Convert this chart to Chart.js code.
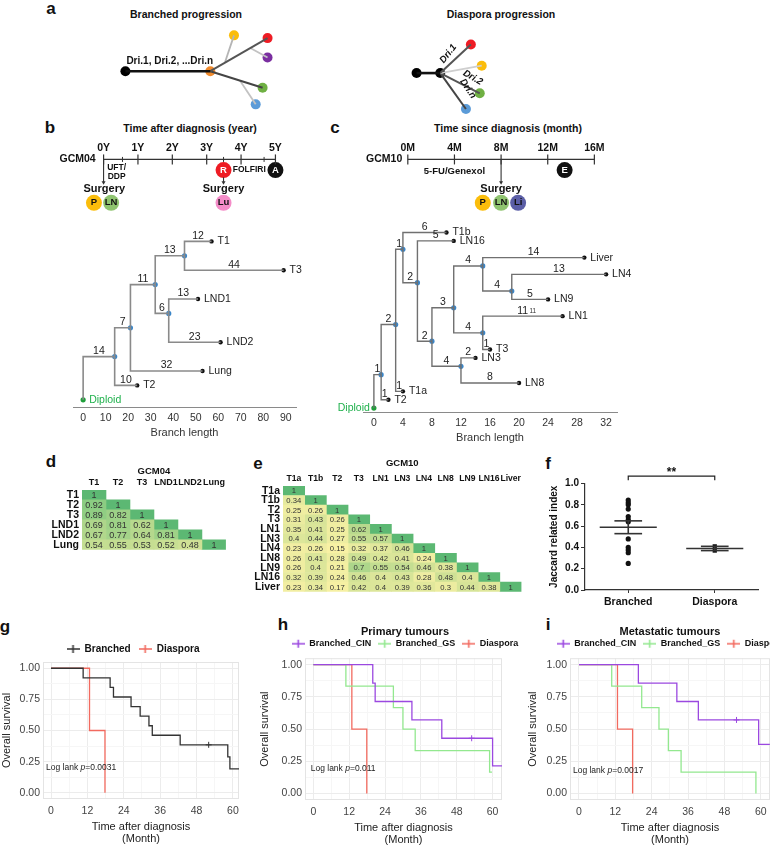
<!DOCTYPE html>
<html>
<head>
<meta charset="utf-8">
<script src="https://cdn.jsdelivr.net/npm/chart.js@4.4.1/dist/chart.umd.min.js"></script>
<style>
  html, body { margin: 0; padding: 0; background: #fff; }
  body { width: 770px; height: 848px; position: relative; overflow: hidden;
         font-family: "Liberation Sans", Arial, sans-serif; }
  .box { position: absolute; }
  .txt { position: absolute; transform: translate(-50%, -50%); white-space: nowrap;
         font-weight: bold; color: #111; }
  .letter { font-size: 17px; }
  .head { font-size: 10.5px; }
</style>
</head>
<body>
<script>
const FONT = '"Liberation Sans", Arial, sans-serif';
Chart.defaults.font.family = FONT;
Chart.defaults.color = '#222';
Chart.defaults.animation = false;
Chart.defaults.events = [];
Chart.defaults.plugins.legend.display = false;
Chart.defaults.plugins.tooltip.enabled = false;

// ---------- a: progression sketches (sketch units) ----------
const branchedX = [122, 208, 232, 266, 266, 261, 254, 223, 249, 238];
const branchedY = [72, 72, 33, 36, 57, 90, 108, 62, 47, 82];
const branchedEdges = [[0, 1], [1, 3], [7, 2], [8, 4], [1, 5], [9, 6]];
const diasporaX = [417, 441, 472, 483, 481, 467];
const diasporaY = [74, 74, 43, 66, 96, 113];
const diasporaEdges = [[0, 1], [1, 2], [1, 3], [1, 4], [1, 5]];

// ---------- b/c: timelines ----------
const yearTicks = [0, 1, 2, 3, 4, 5];
const yearMinor = [0.55, 3.49, 4.67];
const gcm04Surgery = [0, 3.49];
const gcm04Relapse = 3.49;
const gcm04Last = 5;
const monthTicks = [0, 4, 8, 12, 16];
const gcm10Surgery = 8;
const gcm10Last = 13.45;

// ---------- b/c: phylogenetic trees ----------
const treeBNames  = ['Diploid', 'n14', 'T2', 'n21', 'Lung', 'n32', 'n45', 'T1', 'T3', 'n38', 'LND1', 'LND2'];
const treeBParent = [-1, 0, 1, 1, 3, 3, 5, 6, 6, 5, 9, 9];
const treeBBranch = [0, 14, 10, 7, 32, 11, 13, 12, 44, 6, 13, 23];
const treeBRow    = [11, 8, 10, 6, 9, 3, 1, 0, 2, 5, 4, 7];
const treeBTicks  = [0, 10, 20, 30, 40, 50, 60, 70, 80, 90];

const treeCNames  = ['Diploid', 'n1', 'T2', 'n3', 'T1a', 'n4', 'T1b', 'n6', 'LN16', 'n8', 'n11',
                     'n15a', 'Liver', 'n19', 'LN4', 'LN9', 'n15b', 'LN1', 'T3', 'n12', 'LN3', 'LN8'];
const treeCParent = [-1, 0, 1, 1, 3, 3, 5, 5, 7, 7, 9, 10, 11, 11, 13, 13, 10, 16, 16, 9, 19, 19];
const treeCBranch = [0, 1, 1, 2, 1, 1, 6, 2, 5, 2, 3, 4, 14, 4, 13, 5, 4, 11, 1, 4, 2, 8];
const treeCRow    = [21, 17, 20, 11, 19, 2, 0, 6, 1, 13, 9, 4, 3, 7, 5, 8, 12, 10, 14, 16, 15, 18];
const treeCTicks  = [0, 4, 8, 12, 16, 20, 24, 28, 32];

// ---------- d/e: Jaccard heatmaps ----------
const gcm04Samples = ['T1', 'T2', 'T3', 'LND1', 'LND2', 'Lung'];
const gcm04Jaccard = [
  [1],
  [0.92, 1],
  [0.89, 0.82, 1],
  [0.69, 0.81, 0.62, 1],
  [0.67, 0.77, 0.64, 0.81, 1],
  [0.54, 0.55, 0.53, 0.52, 0.48, 1]
];
const gcm10Samples = ['T1a', 'T1b', 'T2', 'T3', 'LN1', 'LN3', 'LN4', 'LN8', 'LN9', 'LN16', 'Liver'];
const gcm10Jaccard = [
  [1],
  [0.34, 1],
  [0.25, 0.26, 1],
  [0.31, 0.43, 0.26, 1],
  [0.35, 0.41, 0.25, 0.62, 1],
  [0.4, 0.44, 0.27, 0.55, 0.57, 1],
  [0.23, 0.26, 0.15, 0.32, 0.37, 0.46, 1],
  [0.26, 0.41, 0.28, 0.49, 0.42, 0.41, 0.24, 1],
  [0.26, 0.4, 0.21, 0.7, 0.55, 0.54, 0.46, 0.38, 1],
  [0.32, 0.39, 0.24, 0.46, 0.4, 0.43, 0.28, 0.48, 0.4, 1],
  [0.23, 0.34, 0.17, 0.42, 0.4, 0.39, 0.36, 0.3, 0.44, 0.38, 1]
];

// ---------- f: Jaccard related index ----------
const jaccardGroups = ['Branched', 'Diaspora'];
const branchedJaccard = [0.845, 0.82, 0.8, 0.76, 0.69, 0.66, 0.64, 0.48, 0.4, 0.375, 0.35, 0.25];
const diasporaJaccard = [0.41, 0.37];

// ---------- g/h/i: survival ----------
const kmTicksX = [0, 12, 24, 36, 48, 60, 72];
const kmGridX = [0, 6, 12, 18, 24, 30, 36, 42, 48, 54, 60, 66, 72];
const survTicks = [0, 0.25, 0.5, 0.75, 1];
const survGrid = [0, 0.125, 0.25, 0.375, 0.5, 0.625, 0.75, 0.875, 1];

const gBranchedT = [0, 10.6, 19.5, 20.6, 26.4, 29.4, 32.3, 33.4, 42.6, 58.3, 59, 62];
const gBranchedS = [1, 0.923, 0.846, 0.769, 0.692, 0.615, 0.538, 0.462, 0.385, 0.289, 0.192, 0.192];
const gDiasporaT = [0, 12.7, 17.8];
const gDiasporaS = [1, 0.5, 0];

const hCinT = [0, 19.9, 20.7, 33, 43, 60, 63.2];
const hCinS = [1, 0.857, 0.714, 0.571, 0.429, 0.214, 0.214];
const hGsT = [0, 10.9, 26.8, 30, 34.1, 59, 59.8];
const hGsS = [1, 0.833, 0.667, 0.5, 0.333, 0.167, 0.167];
const hDiasporaT = [0, 12.9, 17.9];
const hDiasporaS = [1, 0.5, 0];

const iCinT = [0, 19.6, 32.3, 39.4, 59.3, 63];
const iCinS = [1, 0.857, 0.714, 0.571, 0.381, 0.381];
const iGsT = [0, 10.8, 20.7, 26.4, 29.5, 33.7, 58.4];
const iGsS = [1, 0.833, 0.667, 0.5, 0.333, 0.167, 0];
const iDiasporaT = [0, 12.7, 17.7];
const iDiasporaS = [1, 0.5, 0];

// ---------- helpers ----------
function place(left, top, width, height) {
  const d = document.createElement('div');
  d.className = 'box';
  d.style.left = left + 'px';
  d.style.top = top + 'px';
  d.style.width = width + 'px';
  d.style.height = height + 'px';
  const c = document.createElement('canvas');
  d.appendChild(c);
  document.body.appendChild(d);
  return c;
}

function label(text, x, y, cls) {
  const d = document.createElement('div');
  d.className = 'txt ' + cls;
  d.style.left = x + 'px';
  d.style.top = y + 'px';
  d.textContent = text;
  document.body.appendChild(d);
}

function fontOf(size, bold, italic) {
  return (italic ? 'italic ' : '') + (bold ? 'bold ' : '') + size + 'px ' + FONT;
}

// text annotations placed in data units
function notes(items) {
  return {
    id: 'notes',
    afterDatasetsDraw(chart) {
      const ctx = chart.ctx, sx = chart.scales.x, sy = chart.scales.y;
      items.forEach(n => {
        const px = sx.getPixelForValue(n.x) + (n.dx || 0);
        const py = sy.getPixelForValue(n.y) + (n.dy || 0);
        ctx.save();
        ctx.translate(px, py);
        if (n.rot) ctx.rotate(n.rot * Math.PI / 180);
        ctx.fillStyle = n.color || '#222';
        ctx.textBaseline = 'middle';
        ctx.textAlign = 'left';
        const parts = n.parts || [{t: n.text}];
        const fonts = parts.map(p => fontOf(n.size || 10, p.w !== undefined ? p.w : n.w, p.i !== undefined ? p.i : n.i));
        let total = 0;
        parts.forEach((p, k) => { ctx.font = fonts[k]; total += ctx.measureText(p.t).width; });
        const align = n.align || 'center';
        let x0 = align === 'left' ? 0 : align === 'right' ? -total : -total / 2;
        parts.forEach((p, k) => {
          ctx.font = fonts[k];
          ctx.fillText(p.t, x0, 0);
          x0 += ctx.measureText(p.t).width;
        });
        ctx.restore();
      });
    }
  };
}

const hidden = (min, max, reverse) => ({type: 'linear', display: false, min, max, reverse: !!reverse});

function seg(points, color, width) {
  return {data: points, showLine: true, borderColor: color, borderWidth: width, pointRadius: 0, clip: false};
}

// ---------- panel letters and headings ----------
[['a', 51, 9], ['b', 50, 128], ['c', 335, 128], ['d', 51, 462], ['e', 258, 464],
 ['f', 548, 464], ['g', 5, 627], ['h', 283, 625], ['i', 548, 625]]
  .forEach(l => label(l[0], l[1], l[2], 'letter'));
label('Branched progression', 186, 14, 'head');
label('Diaspora progression', 501, 14, 'head');
label('Time after diagnosis (year)', 190, 128, 'head');
label('Time since diagnosis (month)', 508, 128, 'head');

// ---------- a ----------
(function () {
  const edgeStyleB = [['#111', 2.6], ['#555', 2], ['#b5b5b5', 1.8], ['#c2c2c2', 1.8], ['#444', 2], ['#c2c2c2', 1.8]];
  const dotColorB = ['#000', '#f08a2c', '#fbbd0b', '#ee1c24', '#7a2ea0', '#6fb043', '#5b9bd8', null, null, null];
  const edgeStyleD = [['#111', 2.6], ['#555', 2], ['#cfcfcf', 1.8], ['#555', 2], ['#444', 2]];
  const dotColorD = ['#000', '#000', '#ee1c24', '#fbbd0b', '#6fb043', '#5b9bd8'];
  const ds = [];
  const add = (xs, ys, edges, es, dc) => {
    edges.forEach((e, k) => ds.push(seg([{x: xs[e[0]], y: ys[e[0]]}, {x: xs[e[1]], y: ys[e[1]]}], es[k][0], es[k][1])));
    const idx = dc.map((c, i) => i).filter(i => dc[i]);
    ds.push({data: idx.map(i => ({x: xs[i], y: ys[i]})), showLine: false, clip: false,
             pointRadius: 5, backgroundColor: idx.map(i => dc[i]), borderWidth: 0});
  };
  add(branchedX, branchedY, branchedEdges, edgeStyleB, dotColorB);
  add(diasporaX, diasporaY, diasporaEdges, edgeStyleD, dotColorD);
  new Chart(place(0, 0, 770, 125), {
    type: 'scatter',
    data: {datasets: ds},
    options: {
      responsive: true, maintainAspectRatio: false,
      layout: {padding: 0},
      scales: {x: hidden(0, 770), y: hidden(0, 125, true)}
    },
    plugins: [notes([
      {x: 123, y: 61, text: 'Dri.1, Dri.2, ...Dri.n', align: 'left', size: 10, w: true, color: '#111'},
      {x: 449, y: 53, text: 'Dri.1', rot: -52, size: 9.5, w: true, i: true, color: '#111'},
      {x: 474, y: 79, text: 'Dri.2', rot: 30, size: 9.5, w: true, i: true, color: '#111'},
      {x: 469, y: 91, text: 'Dri.n', rot: 56, size: 9.5, w: true, i: true, color: '#111'}
    ])]
  });
})();

// ---------- b/c timelines ----------
const LINE_Y = 5, CIRCLE_Y = 17, ARROW_END = 31, SURG_Y = 38, SITE_Y = 54;

function timelineChart(canvas, cfg) {
  const ds = [];
  const first = cfg.ticks[0], last = cfg.ticks[cfg.ticks.length - 1];
  ds.push(seg([{x: first, y: LINE_Y}, {x: last, y: LINE_Y}], '#333', 1.2));
  ds.push({data: cfg.ticks.map(v => ({x: v, y: LINE_Y})), showLine: false, clip: false,
           pointStyle: 'line', rotation: 90, pointRadius: 5, borderColor: '#333', borderWidth: 1.2});
  if (cfg.minor.length) {
    ds.push({data: cfg.minor.map(v => ({x: v, y: LINE_Y})), showLine: false, clip: false,
             pointStyle: 'line', rotation: 90, pointRadius: 2.5, borderColor: '#333', borderWidth: 1});
  }
  cfg.arrows.forEach(a => {
    ds.push(seg([{x: a[0], y: a[1]}, {x: a[0], y: a[2]}], '#333', 1.1));
    ds.push({data: [{x: a[0], y: a[2]}], showLine: false, clip: false, pointStyle: 'triangle',
             rotation: 180, pointRadius: 2.3, backgroundColor: '#333', borderWidth: 0});
  });
  ds.push({data: cfg.circles.map(c => ({x: c.x, y: c.y})), showLine: false, clip: false,
           pointRadius: 8, backgroundColor: cfg.circles.map(c => c.color), borderWidth: 0});
  const items = cfg.texts.slice();
  cfg.circles.forEach(c => items.push({x: c.x, y: c.y, text: c.text, size: 9.5, w: true, color: c.ink}));
  new Chart(canvas, {
    type: 'scatter',
    data: {datasets: ds},
    options: {
      responsive: true, maintainAspectRatio: false,
      layout: {padding: 0},
      scales: {
        x: {type: 'linear', position: 'top', min: cfg.min, max: cfg.max,
            afterBuildTicks: ax => { ax.ticks = cfg.ticks.map(v => ({value: v})); },
            ticks: {callback: v => v + cfg.unit, autoSkip: false, maxRotation: 0,
                    font: {size: 10.5, weight: 'bold'}, color: '#111', padding: 1},
            grid: {display: false, drawTicks: false}, border: {display: false},
            afterFit: ax => { ax.height = 15; }},
        y: hidden(0, 70, true)
      }
    },
    plugins: [notes(items)]
  });
}

timelineChart(place(50, 140, 250, 85), {
  min: -1.326, max: 5.482, unit: 'Y', ticks: yearTicks, minor: yearMinor,
  arrows: [[gcm04Surgery[0], LINE_Y, ARROW_END], [gcm04Surgery[1], 25, ARROW_END]],
  circles: [
    {x: gcm04Relapse, y: CIRCLE_Y, color: '#ee1c24', text: 'R', ink: '#fff'},
    {x: gcm04Last, y: CIRCLE_Y, color: '#111', text: 'A', ink: '#fff'},
    {x: gcm04Surgery[0] - 0.28, y: SITE_Y, color: '#fbbd0b', text: 'P', ink: '#111'},
    {x: gcm04Surgery[0] + 0.22, y: SITE_Y, color: '#8fc46f', text: 'LN', ink: '#111'},
    {x: gcm04Surgery[1], y: SITE_Y, color: '#f48cc8', text: 'Lu', ink: '#111'}
  ],
  texts: [
    {x: -0.755, y: LINE_Y, text: 'GCM04', size: 10.5, w: true, color: '#111'},
    {x: 0.38, y: 14, text: 'UFT/', size: 8.5, w: true, color: '#111'},
    {x: 0.38, y: 24, text: 'DDP', size: 8.5, w: true, color: '#111'},
    {x: 4.24, y: CIRCLE_Y, text: 'FOLFIRI', size: 8.5, w: true, color: '#111'},
    {x: gcm04Surgery[0] + 0.02, y: SURG_Y, text: 'Surgery', size: 11, w: true, color: '#111'},
    {x: gcm04Surgery[1], y: SURG_Y, text: 'Surgery', size: 11, w: true, color: '#111'}
  ]
});

timelineChart(place(340, 140, 290, 85), {
  min: -5.13, max: 18.37, unit: 'M', ticks: monthTicks, minor: [],
  arrows: [[gcm10Surgery, LINE_Y, ARROW_END]],
  circles: [
    {x: gcm10Last, y: CIRCLE_Y, color: '#111', text: 'E', ink: '#fff'},
    {x: gcm10Surgery - 1.57, y: SITE_Y, color: '#fbbd0b', text: 'P', ink: '#111'},
    {x: gcm10Surgery, y: SITE_Y, color: '#8fc46f', text: 'LN', ink: '#111'},
    {x: gcm10Surgery + 1.46, y: SITE_Y, color: '#5b5ea6', text: 'Li', ink: '#111'}
  ],
  texts: [
    {x: -2.03, y: LINE_Y, text: 'GCM10', size: 10.5, w: true, color: '#111'},
    {x: 4, y: 18, text: '5-FU/Genexol', size: 9.5, w: true, color: '#111'},
    {x: gcm10Surgery, y: SURG_Y, text: 'Surgery', size: 11, w: true, color: '#111'}
  ]
});

// ---------- b/c trees ----------
function treeChart(canvas, tr, st) {
  const xs = [];
  tr.names.forEach((_, i) => { xs[i] = tr.parent[i] < 0 ? 0 : xs[tr.parent[i]] + tr.branch[i]; });
  const internal = i => tr.parent.includes(i);
  const ds = [], items = [];
  tr.names.forEach((name, i) => {
    const p = tr.parent[i];
    if (p < 0) return;
    ds.push(seg([{x: xs[p], y: tr.row[p]}, {x: xs[p], y: tr.row[i]}, {x: xs[i], y: tr.row[i]}], st.lineColor, st.lineWidth));
    items.push({x: (xs[p] + xs[i]) / 2, y: tr.row[i], dy: -5.5, text: String(tr.branch[i]), size: 10.5, color: '#222'});
  });
  ds.push({data: tr.names.map((_, i) => ({x: xs[i], y: tr.row[i]})), showLine: false, clip: false,
    pointRadius: tr.names.map((_, i) => (internal(i) ? 2.6 : 2.2)),
    backgroundColor: tr.names.map((_, i) => (tr.parent[i] < 0 ? '#1f9e3a' : internal(i) ? '#3b86c8' : '#111')),
    borderWidth: 0});
  tr.names.forEach((name, i) => {
    if (tr.parent[i] < 0) {
      items.push({x: 0, y: tr.row[i], text: name, color: '#1fb14c', size: 10.5,
                  align: st.rootAlign, dx: st.rootAlign === 'left' ? 6 : -4});
    } else if (!internal(i)) {
      items.push({x: xs[i], y: tr.row[i], dx: 6, text: name, align: 'left', size: 10.5, color: '#222'});
    }
  });
  (st.extra || []).forEach(e => items.push(e));
  new Chart(canvas, {
    type: 'scatter',
    data: {datasets: ds},
    options: {
      responsive: true, maintainAspectRatio: false,
      layout: {padding: {left: st.padL, right: st.padR}},
      scales: {
        x: {type: 'linear', min: st.xmin, max: st.xmax,
            afterBuildTicks: ax => { ax.ticks = st.ticks.map(v => ({value: v})); },
            ticks: {autoSkip: false, maxRotation: 0, font: {size: 10.5}, color: '#333', padding: 5},
            grid: {display: false, drawTicks: false},
            border: {display: true, color: '#8a8a8a', width: 1},
            title: {display: true, text: 'Branch length', font: {size: 11}, color: '#333', padding: 4},
            afterFit: ax => { ax.height = 37; }},
        y: hidden(st.ymin, st.ymax, true)
      }
    },
    plugins: [notes(items)]
  });
}

treeChart(place(69, 223, 257, 221),
  {names: treeBNames, parent: treeBParent, branch: treeBBranch, row: treeBRow},
  {xmin: -4.5, xmax: 94.5, ymin: -1, ymax: 11.5, ticks: treeBTicks, padL: 0, padR: 30,
   lineColor: '#8a8a8a', lineWidth: 1.6, rootAlign: 'left'});

treeChart(place(323, 216, 334, 233),
  {names: treeCNames, parent: treeCParent, branch: treeCBranch, row: treeCRow},
  {xmin: -1.5, xmax: 33.5, ymin: -1.5, ymax: 21.47, ticks: treeCTicks, padL: 40, padR: 40,
   lineColor: '#707070', lineWidth: 1.4, rootAlign: 'right',
   extra: [{x: 21.9, y: 10, dy: -5, text: '11', size: 6.5, color: '#333'}]});

// ---------- d/e heatmaps ----------
const heatStops = [[0.15, [248, 241, 164]], [0.3, [236, 236, 160]], [0.45, [212, 227, 151]],
                   [0.6, [186, 218, 142]], [0.8, [160, 210, 136]], [0.95, [134, 203, 128]], [1, [92, 184, 115]]];
function heatColor(v) {
  if (v <= heatStops[0][0]) return 'rgb(' + heatStops[0][1].join(',') + ')';
  for (let k = 1; k < heatStops.length; k++) {
    const [v1, c1] = heatStops[k], [v0, c0] = heatStops[k - 1];
    if (v <= v1) {
      const t = (v - v0) / (v1 - v0);
      return 'rgb(' + c0.map((c, j) => Math.round(c + (c1[j] - c) * t)).join(',') + ')';
    }
  }
  return 'rgb(' + heatStops[heatStops.length - 1][1].join(',') + ')';
}

function heatmapChart(canvas, names, rows, title, o) {
  const n = names.length;
  const ds = names.map((_, c) => ({
    data: names.map((_, r) => (r >= c ? [c, c + 1] : null)),
    backgroundColor: names.map((_, r) => (r >= c ? heatColor(rows[r][c]) : 'rgba(0,0,0,0)')),
    borderWidth: 0, grouped: false, barPercentage: 1, categoryPercentage: 1
  }));
  const cellText = {
    id: 'cellText',
    afterDatasetsDraw(chart) {
      const ctx = chart.ctx;
      ctx.save();
      ctx.font = fontOf(o.valueSize, false, false);
      ctx.fillStyle = '#333';
      ctx.textAlign = 'center';
      ctx.textBaseline = 'middle';
      names.forEach((_, c) => {
        chart.getDatasetMeta(c).data.forEach((el, r) => {
          if (r < c) return;
          const p = el.getCenterPoint();
          ctx.fillText(String(rows[r][c]), p.x, p.y + 0.5);
        });
      });
      ctx.restore();
    }
  };
  new Chart(canvas, {
    type: 'bar',
    data: {labels: names, datasets: ds},
    options: {
      indexAxis: 'y', responsive: true, maintainAspectRatio: false,
      layout: {padding: 0},
      plugins: {
        title: {display: true, text: title, fullSize: false, color: '#111',
                font: {size: 9.5, weight: 'bold'}, padding: {top: 0, bottom: o.titleGap}}
      },
      scales: {
        x: {type: 'linear', position: 'top', min: 0, max: n,
            afterBuildTicks: ax => { ax.ticks = names.map((_, i) => ({value: i + 0.5})); },
            ticks: {callback: (v, i) => names[i], autoSkip: false, maxRotation: 0, minRotation: 0,
                    font: {size: o.headSize, weight: 'bold'}, color: '#111', padding: 2},
            grid: {display: false, drawTicks: false}, border: {display: false},
            afterFit: ax => { ax.height = 12; }},
        y: {ticks: {font: {size: 10.5, weight: 'bold'}, color: '#111', padding: 3, autoSkip: false},
            grid: {display: false, drawTicks: false}, border: {display: false},
            afterFit: ax => { ax.width = o.yw; }}
      }
    },
    plugins: [cellText]
  });
}

heatmapChart(place(37, 466, 190, 93), gcm04Samples, gcm04Jaccard, 'GCM04',
  {yw: 45, titleGap: 0.5, valueSize: 9, headSize: 9});
heatmapChart(place(243, 458, 280, 143), gcm10Samples, gcm10Jaccard, 'GCM10',
  {yw: 40, titleGap: 4.5, valueSize: 7.7, headSize: 8.6});

// ---------- f ----------
function meanSem(v) {
  const m = v.reduce((a, b) => a + b, 0) / v.length;
  const sd = Math.sqrt(v.reduce((a, b) => a + (b - m) * (b - m), 0) / (v.length - 1));
  return [m, sd / Math.sqrt(v.length)];
}
(function () {
  const ds = [];
  [branchedJaccard, diasporaJaccard].forEach((vals, g) => {
    const xg = g + 1;
    const [m, s] = meanSem(vals);
    ds.push(seg([{x: xg - 0.33, y: m}, {x: xg + 0.33, y: m}], '#333', 1.6));
    ds.push(seg([{x: xg, y: m - s}, {x: xg, y: m + s}], '#333', 1.6));
    ds.push(seg([{x: xg - 0.16, y: m - s}, {x: xg + 0.16, y: m - s}], '#333', 1.6));
    ds.push(seg([{x: xg - 0.16, y: m + s}, {x: xg + 0.16, y: m + s}], '#333', 1.6));
    ds.push({data: vals.map(v => ({x: xg, y: v})), showLine: false, clip: false,
             pointStyle: g ? 'rect' : 'circle', pointRadius: g ? 3 : 2.6,
             backgroundColor: '#111', borderWidth: 0});
  });
  ds.push(seg([{x: 1, y: 1.03}, {x: 1, y: 1.07}, {x: 2, y: 1.07}, {x: 2, y: 1.03}], '#222', 1.2));
  new Chart(place(548, 464, 215, 146), {
    type: 'scatter',
    data: {datasets: ds},
    options: {
      responsive: true, maintainAspectRatio: false,
      layout: {padding: {top: 19.5, right: 5}},
      scales: {
        x: {type: 'linear', min: 0.5, max: 2.5,
            afterBuildTicks: ax => { ax.ticks = [{value: 1}, {value: 2}]; },
            ticks: {callback: (v, i) => jaccardGroups[i], autoSkip: false, maxRotation: 0,
                    font: {size: 10.5, weight: 'bold'}, color: '#111', padding: 3},
            grid: {drawOnChartArea: false, tickLength: 3, color: '#333'},
            border: {color: '#333', width: 1.2},
            afterFit: ax => { ax.height = 20; }},
        y: {min: 0, max: 1,
            ticks: {stepSize: 0.2, callback: v => v.toFixed(1), font: {size: 10, weight: 'bold'}, color: '#111', padding: 2},
            grid: {drawOnChartArea: false, tickLength: 4, color: '#333'},
            border: {color: '#333', width: 1.2},
            title: {display: true, text: 'Jaccard related index', font: {size: 10, weight: 'bold'}, color: '#111', padding: 0},
            afterFit: ax => { ax.width = 37; }}
      }
    },
    plugins: [notes([{x: 1.5, y: 1.1, text: '**', size: 12, w: true, color: '#111'}])]
  });
})();

// ---------- g/h/i survival ----------
const keyCache = {};
function legendKey(color) {
  if (keyCache[color]) return keyCache[color];
  const c = document.createElement('canvas');
  c.width = 13; c.height = 10;
  const x = c.getContext('2d');
  x.strokeStyle = color; x.lineWidth = 1.6;
  x.beginPath(); x.moveTo(0, 5); x.lineTo(13, 5); x.moveTo(6.5, 1); x.lineTo(6.5, 9); x.stroke();
  keyCache[color] = c;
  return c;
}
const panelFrame = {
  id: 'panelFrame',
  beforeDatasetsDraw(chart) {
    const a = chart.chartArea, ctx = chart.ctx;
    ctx.save();
    ctx.strokeStyle = '#e4e4e4';
    ctx.lineWidth = 1;
    ctx.strokeRect(a.left + 0.5, a.top + 0.5, a.right - a.left - 1, a.bottom - a.top - 1);
    ctx.restore();
  }
};

// the spare right axis only reserves room so legend and title sit centred over the panel
function kmChart(canvas, o) {
  const ds = o.series.map(s => ({
    label: s.label,
    data: s.t.map((t, i) => ({x: t, y: s.s[i]})),
    showLine: true, stepped: 'before', borderColor: s.color, borderWidth: 1.3, pointRadius: 0
  }));
  o.censor.forEach(c => ds.push({
    label: '', data: [{x: c.t, y: c.s}], showLine: false,
    pointStyle: 'cross', pointRadius: 3, borderColor: c.color, borderWidth: 1
  }));
  new Chart(canvas, {
    type: 'scatter',
    data: {datasets: ds},
    options: {
      responsive: true, maintainAspectRatio: false,
      layout: {padding: 0},
      plugins: {
        title: {display: !!o.title, text: o.title || '', color: '#111',
                font: {size: 11, weight: 'bold'}, padding: {top: 0, bottom: -6}},
        legend: {display: true, maxHeight: o.legendH,
          labels: {usePointStyle: true, pointStyleWidth: 13, padding: o.legendPad, color: '#111',
                   font: {size: o.legendSize, weight: 'bold'},
                   filter: it => it.text !== '',
                   generateLabels: ch => Chart.defaults.plugins.legend.labels.generateLabels(ch).map(it =>
                     Object.assign(it, {pointStyle: legendKey(ch.data.datasets[it.datasetIndex].borderColor)}))}}
      },
      scales: {
        x: {type: 'linear', min: o.xmin, max: o.xmax,
            afterBuildTicks: ax => { ax.ticks = kmGridX.filter(v => v >= o.xmin && v <= o.xmax).map(v => ({value: v})); },
            ticks: {callback: v => (kmTicksX.includes(v) ? String(v) : ''), autoSkip: false, maxRotation: 0,
                    font: {size: 10.5}, color: '#444', padding: 6},
            grid: {color: c => (c.tick && kmTicksX.includes(c.tick.value) ? '#ececec' : '#f6f6f6'), drawTicks: false},
            border: {display: false},
            title: {display: true, text: ['Time after diagnosis', '(Month)'], font: {size: 11, lineHeight: 1.1},
                    color: '#222', padding: {top: 0, bottom: 2}},
            afterFit: ax => { ax.height = 48; }},
        y: {min: -0.05, max: 1.05,
            afterBuildTicks: ax => { ax.ticks = survGrid.map(v => ({value: v})); },
            ticks: {callback: v => (survTicks.includes(v) ? v.toFixed(2) : ''), autoSkip: false,
                    font: {size: 10.5}, color: '#444', padding: 3},
            grid: {color: c => (c.tick && survTicks.includes(c.tick.value) ? '#ececec' : '#f6f6f6'), drawTicks: false},
            border: {display: false},
            title: {display: true, text: 'Overall survival', font: {size: 11}, color: '#222', padding: 0},
            afterFit: ax => { ax.width = o.yw; }},
        spare: {type: 'linear', axis: 'y', position: 'right', display: true,
                ticks: {display: false}, grid: {display: false, drawTicks: false}, border: {display: false},
                afterFit: ax => { ax.width = o.rw; }}
      }
    },
    plugins: [panelFrame, notes([{x: o.noteX, y: o.noteY, align: 'left', size: 8.5, color: '#222',
                                   parts: [{t: 'Log lank '}, {t: 'p', i: true}, {t: '=' + o.p}]}])]
  });
}

const RED = '#f26a5f', CIN = '#9b48e0', GS = '#93e88f';

kmChart(place(0, 636, 266, 211), {
  xmin: -2.64, xmax: 62, yw: 43, rw: 27, legendH: 26, legendPad: 8, legendSize: 10,
  series: [{label: 'Branched', t: gBranchedT, s: gBranchedS, color: '#333'},
           {label: 'Diaspora', t: gDiasporaT, s: gDiasporaS, color: RED}],
  censor: [{t: 52, s: 0.385, color: '#333'}],
  noteX: -1.65, noteY: 0.2, p: '0.0031'
});

kmChart(place(258, 625, 294, 223), {
  title: 'Primary tumours',
  xmin: -2.78, xmax: 63.15, yw: 47, rw: 50, legendH: 26.3, legendPad: 7, legendSize: 9,
  series: [{label: 'Branched_CIN', t: hCinT, s: hCinS, color: CIN},
           {label: 'Branched_GS', t: hGsT, s: hGsS, color: GS},
           {label: 'Diaspora', t: hDiasporaT, s: hDiasporaS, color: RED}],
  censor: [{t: 53, s: 0.429, color: CIN}],
  noteX: -0.87, noteY: 0.19, p: '0.011'
});

kmChart(place(526, 625, 288, 223), {
  title: 'Metastatic tumours',
  xmin: -2.97, xmax: 63.05, yw: 44, rw: 44, legendH: 26.3, legendPad: 7, legendSize: 9,
  series: [{label: 'Branched_CIN', t: iCinT, s: iCinS, color: CIN},
           {label: 'Branched_GS', t: iGsT, s: iGsS, color: GS},
           {label: 'Diaspora', t: iDiasporaT, s: iDiasporaS, color: RED}],
  censor: [{t: 52, s: 0.571, color: CIN}],
  noteX: -2, noteY: 0.18, p: '0.0017'
});
</script>
</body>
</html>
